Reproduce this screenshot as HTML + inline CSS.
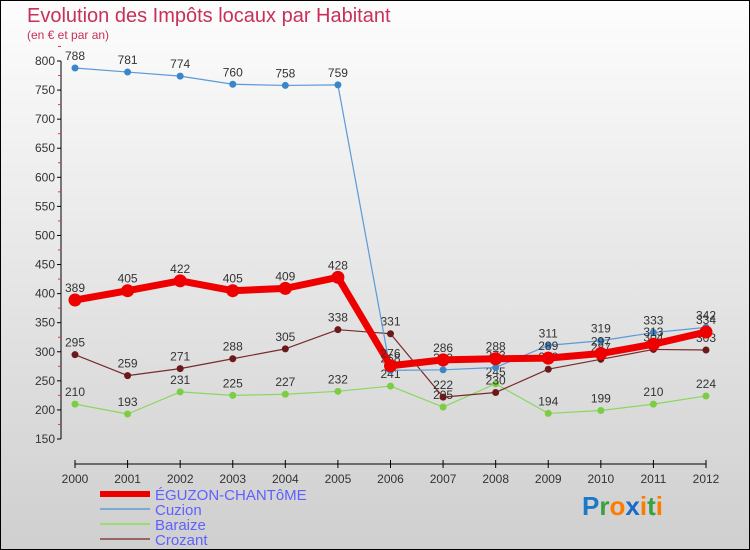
<!DOCTYPE html>
<html><head><meta charset="utf-8"><style>
body{margin:0}
#c{width:750px;height:550px;position:relative;background:linear-gradient(#fdfdfd,#cfcfcf);box-sizing:border-box;border:1px solid #000;overflow:hidden;font-family:"Liberation Sans",sans-serif}
</style></head><body>
<div id="c">
<svg id="s" width="750" height="550" style="position:absolute;left:-1px;top:-1px"></svg>
</div>
<script>
const years=["2000","2001","2002","2003","2004","2005","2006","2007","2008","2009","2010","2011","2012"];
const yTicks=[150,200,250,300,350,400,450,500,550,600,650,700,750,800];
const eguzon=[389,405,422,405,409,428,276,286,288,289,297,313,334];
const cuzion=[788,781,774,760,758,759,268,269,273,311,319,333,342];
const baraize=[210,193,231,225,227,232,241,205,245,194,199,210,224];
const crozant=[295,259,271,288,305,338,331,222,230,270,287,304,303];
const NS="http://www.w3.org/2000/svg";
const s=document.getElementById('s');
function X(i){return 75+i*(706-75)/12}
function Y(v){return 439-(v-150)*(439-61)/650}
function el(t,a,p){const e=document.createElementNS(NS,t);for(const k in a)e.setAttribute(k,a[k]);(p||s).appendChild(e);return e}
let t=el('text',{x:27,y:22,'font-size':20,fill:'#c8305a'});t.textContent="Evolution des Impôts locaux par Habitant";

t=el('text',{x:27,y:39,'font-size':12,fill:'#c8305a'});t.textContent="(en € et par an)";

// y axis
let a=el('line',{x1:61,y1:61,x2:61,y2:439,stroke:'#000','stroke-width':1});

yTicks.forEach(v=>{el('line',{x1:57,x2:61,y1:Y(v),y2:Y(v),stroke:'#000'});
el('line',{x1:58,x2:61,y1:Y(v+25),y2:Y(v+25),stroke:'#e33'});
const tx=el('text',{x:55,y:Y(v)+4,'font-size':12,fill:'#333','text-anchor':'end'});tx.textContent=v;
});
a=el('line',{x1:75,y1:464,x2:706,y2:464,stroke:'#000'});

years.forEach((y,i)=>{el('line',{x1:X(i),x2:X(i),y1:460,y2:468,stroke:'#000'});
const tx=el('text',{x:X(i),y:483,'font-size':12,fill:'#333','text-anchor':'middle'});tx.textContent=y;
});
function series(d,col,w,r,dotcol,name){
const g=el('g',{});
el('polyline',{points:d.map((v,i)=>X(i)+','+Y(v)).join(' '),fill:'none',stroke:col,'stroke-width':w,'stroke-linejoin':'round'},g);
d.forEach((v,i)=>{const c=el('circle',{cx:X(i),cy:Y(v),r:r,fill:dotcol},g);
const tx=el('text',{x:X(i),y:Y(v)-8,'font-size':12,fill:'#333','text-anchor':'middle'},g);tx.textContent=v;});}
series(baraize,'#88d860',1.2,3.5,'#7ccc44','baraize-series');
series(crozant,'#7a2a2a',1.2,3.5,'#6a1a1a','crozant-series');
series(cuzion,'#5a9ad8',1.2,3.5,'#3a86cc','cuzion-series');
series(eguzon,'#ee0000',7,6.5,'#ee0000','eguzon-series');
const leg=[["ÉGUZON-CHANTôME","#ee0000",6],["Cuzion","#7aaad8",2],["Baraize","#99dd77",2],["Crozant","#996666",2]];
leg.forEach((l,i)=>{const y=494+i*15;el('line',{x1:100,x2:150,y1:y,y2:y,stroke:l[1],'stroke-width':l[2]});
const tx=el('text',{x:155,y:y+6,'font-size':15,fill:'#6060ff'});tx.textContent=l[0];
});
const lg=el('text',{x:582,y:515,'font-size':26,'font-weight':'bold'});
[["P","#1a7ac8"],["r","#3aa040"],["o","#ff7a00"],["x","#1a6ac8"],["i","#ff7a00"],["t","#3aa040"],["i","#ff7a00"]].forEach(p=>{const ts=el('tspan',{fill:p[1]},lg);ts.textContent=p[0];});
</script>
</body></html>
